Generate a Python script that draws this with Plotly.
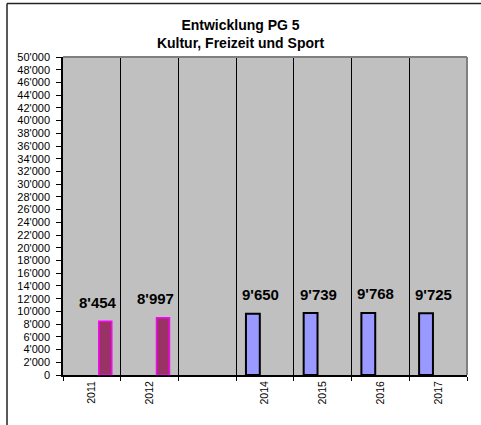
import plotly.graph_objects as go

categories = ["2011", "2012", "", "2014", "2015", "2016", "2017"]
series_a = [8454, 8997, None, None, None, None, None]
series_b = [None, None, None, 9650, 9739, 9768, 9725]
title_lines = ["Entwicklung PG 5", "Kultur, Freizeit und Sport"]

FONT = "Arial, Liberation Sans, sans-serif"

def fmt(v):
    return f"{v:,}".replace(",", "'")

idx = list(range(len(categories)))
boundaries = [i - 0.5 for i in range(len(categories) + 1)]

fig = go.Figure()
fig.add_trace(go.Bar(
    x=idx, y=series_a, width=0.225, offset=0.12,
    marker=dict(color="#993366", line=dict(color="#FF00FF", width=1.5)),
    showlegend=False, hoverinfo="skip"))
fig.add_trace(go.Bar(
    x=idx, y=series_b, width=0.24, offset=-0.33,
    marker=dict(color="#9999FF", line=dict(color="#000000", width=2)),
    showlegend=False, hoverinfo="skip"))

for series, xs in ((series_a, 6), (series_b, -4.5)):
    for i, v in zip(idx, series):
        if v is None:
            continue
        fig.add_annotation(x=i, y=v, text=fmt(v), showarrow=False,
                           xshift=xs, yshift=19, yanchor="middle",
                           font=dict(family=FONT, size=15, color="black", weight="bold"))

# plot-area top/right gray border
fig.add_shape(type="line", xref="paper", yref="paper", x0=0, x1=1, y0=1, y1=1,
              line=dict(color="#808080", width=2))
fig.add_shape(type="line", xref="paper", yref="paper", x0=1, x1=1, y0=0, y1=1,
              line=dict(color="#808080", width=2))
# outer chart border (top & left visible)
fig.add_shape(type="line", xref="paper", yref="paper", x0=-0.1386, x1=1.2, y0=1.168, y1=1.168,
              line=dict(color="#222222", width=1.5))
fig.add_shape(type="line", xref="paper", yref="paper", x0=-0.1386, x1=-0.1386, y0=-0.3, y1=1.168,
              line=dict(color="#222222", width=1.5))

fig.update_layout(
    width=481, height=425,
    margin=dict(l=63, r=14, t=57, b=50),
    paper_bgcolor="white", plot_bgcolor="#C0C0C0",
    separators=".'",
    barmode="overlay",
    font=dict(family=FONT, size=10, color="black"),
    title=dict(text="<br>".join(title_lines), x=0.5, xref="container",
               y=(425 - 30) / 425, yref="container", yanchor="middle",
               font=dict(family=FONT, size=14, color="black", weight="bold")),
    xaxis=dict(range=[-0.5, len(categories) - 0.5],
               tickmode="array", tickvals=idx, ticktext=categories,
               ticks="", showgrid=False, zeroline=False,
               minor=dict(tickmode="array", tickvals=boundaries, ticks="outside",
                          ticklen=4, tickcolor="black",
                          showgrid=True, gridcolor="black", gridwidth=1),
               showline=True, linecolor="black", linewidth=2,
               tickangle=-90, tickfont=dict(size=10.5), fixedrange=True),
    yaxis=dict(range=[0, 50000], dtick=2000, tickformat=",d",
               showgrid=False, zeroline=False,
               ticks="outside", ticklen=5, tickcolor="black",
               ticklabelstandoff=4,
               showline=True, linecolor="black", linewidth=1.5,
               tickfont=dict(size=11), fixedrange=True),
)

fig.write_html("out.html")
